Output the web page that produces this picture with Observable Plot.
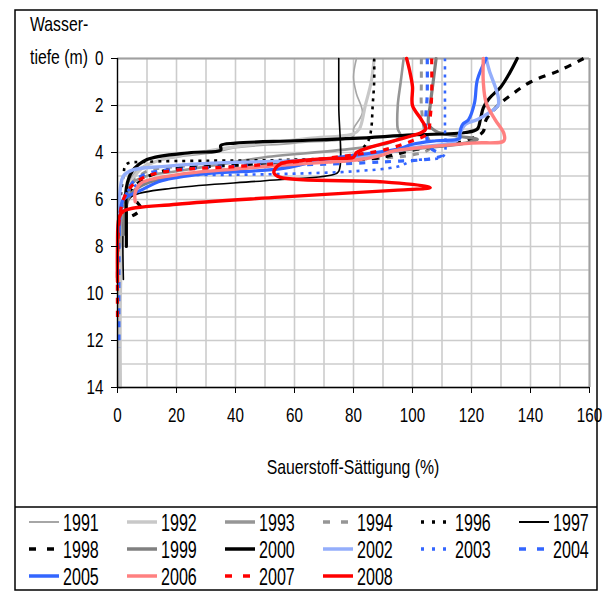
<!DOCTYPE html>
<html>
<head>
<meta charset="utf-8">
<script src="https://cdn.jsdelivr.net/npm/d3@7"></script>
<script src="https://cdn.jsdelivr.net/npm/@observablehq/plot@0.6"></script>
<style>
  html, body { margin: 0; padding: 0; background: #fff; }
  #chart { position: relative; width: 605px; height: 592px; }
</style>
</head>
<body>
<div id="chart"></div>
<script>
// ---- data: [saturation %, depth m] per year ----
const years = ["1991","1992","1993","1994","1996","1997","1998","1999","2000","2002","2003","2004","2005","2006","2007","2008"];
const s1991 = [[81,0],[80,0.8],[81,1.5],[83,2.3],[80,3],[80,3.3],[60,3.6],[40,3.8],[33,4.0],[20,4.2],[10,4.5],[5,5],[2,6],[0.5,8],[0.3,11],[0.3,14]];
const s1992 = [[87,0],[86,1],[84,2],[82,3],[80,3.2],[65,3.4],[50,3.6],[40,3.75],[30,3.95],[15,4.3],[8,4.7],[5,5.2],[4,5.8],[2,7],[1,10],[1,14]];
const s1993 = [[97,0],[96,1],[95,2],[95,3],[96,3.3],[92,3.6],[75,3.9],[50,4.2],[35,4.5],[20,4.8],[10,5.0],[5,5.3],[2,6],[1,8]];
const s1994 = [[103,0],[103,1],[103,2],[104,3],[106,3.8],[100,4.1],[80,4.3],[60,4.45],[40,4.5],[20,4.6],[10,4.8],[5,5.3],[3,6],[1,7]];
const s1996 = [[87,0],[87,1],[86.5,2],[86,3],[85,3.5],[80,4.1],[60,4.3],[30,4.35],[10,4.4],[3,4.5],[2,5],[1,6],[0.5,7]];
const s1997 = [[75,0],[75,2],[75,4.8],[73,4.95],[50,5.2],[20,5.5],[5,5.85],[3,6.2],[2,7],[2,9.4]];
const s1998 = [[158,0],[150,0.5],[140,1],[134,1.5],[129,2],[125,2.6],[124,3.1],[122,3.3],[115,3.6],[100,3.9],[90,4.2],[70,4.4],[50,4.5],[30,4.6],[15,4.8],[8,5.2],[5,5.6],[6,6.0],[8,6.4],[5,6.7]];
const s1999 = [[108,0],[107,1],[106,2],[105.5,2.8],[108,3.1],[115,3.3],[122,3.45],[118,3.6],[100,3.85],[80,4.2],[60,4.45],[40,4.7],[20,5.0],[10,5.3],[5,5.7],[3,6.2],[2,7.5]];
const s2000 = [[135.5,0],[133,0.6],[130,1.2],[126,1.7],[124,2.1],[123,2.6],[122,3.0],[118,3.15],[100,3.25],[80,3.4],[60,3.5],[40,3.6],[35,3.7],[35,3.9],[25,4.0],[10,4.3],[5,4.8],[3,5.5],[3,6.5],[3,8]];
const s2002 = [[125,0],[126,0.5],[129,1.6],[129,2],[126,2.3],[122,2.6],[118,2.8],[116,3.2],[115,3.5],[100,3.8],[80,4.2],[60,4.35],[32,4.45],[15,4.6],[5,4.75],[2,5.0],[1,5.5],[0.5,6.5]];
const s2003 = [[111,0],[111,2],[111,3],[111,4.0],[110,4.2],[100,4.35],[95,4.6],[80,4.8],[60,4.9],[40,4.95],[20,5.0],[8,5.3],[3,5.7],[1,6.5]];
const s2004 = [[105,0],[105,1.5],[104.5,3],[106,3.8],[110,4.1],[107,4.25],[90,4.4],[70,4.5],[50,4.55],[30,4.65],[10,4.9],[5,5.3],[3,5.8],[1,6.5],[0.5,9],[0.5,12.3]];
const s2005 = [[125,0],[122,0.9],[121,1.9],[119,2.6],[117,2.8],[116,3.2],[116,3.4],[108,3.5],[100,3.65],[95,3.85],[70,4.3],[55,4.7],[30,4.9],[15,5.2],[8,5.6],[2,6.0],[1,6.5],[0.5,7.5]];
const s2006 = [[124,0],[124,1],[125,1.9],[128,2.6],[131,3.2],[131,3.5],[120,3.6],[93,3.95],[90,4.1],[82,4.3],[60,4.5],[55,4.55],[40,4.7],[20,4.95],[8,5.3],[6,5.7],[6,6.1]];
const s2007 = [[106.5,0],[106.5,1.5],[106,2.5],[105,3.2],[100,3.5],[90,3.9],[80,4.1],[60,4.4],[40,4.6],[20,4.75],[10,5.0],[5,5.4],[2,6.0],[0.5,7],[0,9],[0,11]];
const s2008 = [[98,0],[99,0.5],[100,1.2],[100,2],[103,2.6],[104.5,3],[103,3.15],[85,3.8],[81,4.0],[80,4.2],[72,4.25],[62,4.35],[55,4.5],[53,4.85],[55,5.05],[90,5.25],[105,5.45],[106,5.5],[95,5.6],[55,5.9],[20,6.2],[2,6.5],[0.5,6.8],[0,8],[0,9.5]];
const seriesData = {"1991":s1991,"1992":s1992,"1993":s1993,"1994":s1994,"1996":s1996,"1997":s1997,"1998":s1998,"1999":s1999,"2000":s2000,"2002":s2002,"2003":s2003,"2004":s2004,"2005":s2005,"2006":s2006,"2007":s2007,"2008":s2008};
const xTicks = [0,20,40,60,80,100,120,140,160];
const yTicks = [0,2,4,6,8,10,12,14];
const xGrid = d3.range(0,161,10);
const yGrid = d3.range(0,15,1);

// ---- styles ----
const styles = {
  "1991": {stroke:"#a6a6a6", w:1.6, dash:null},
  "1992": {stroke:"#c8c8c8", w:3.2, dash:null},
  "1993": {stroke:"#969696", w:2.6, dash:null},
  "1994": {stroke:"#969696", w:3, dash:"6,7"},
  "1996": {stroke:"#000000", w:2.6, dash:"3,5"},
  "1997": {stroke:"#000000", w:1.6, dash:null},
  "1998": {stroke:"#000000", w:3.2, dash:"7,7"},
  "1999": {stroke:"#808080", w:3.2, dash:null},
  "2000": {stroke:"#000000", w:3.2, dash:null},
  "2002": {stroke:"#94aefb", w:3.4, dash:null},
  "2003": {stroke:"#3366ff", w:2.6, dash:"3,5"},
  "2004": {stroke:"#3366ff", w:3.2, dash:"6,7"},
  "2005": {stroke:"#3366ff", w:3.2, dash:null},
  "2006": {stroke:"#ff8080", w:3.4, dash:null},
  "2007": {stroke:"#ff0000", w:3.2, dash:"6,7"},
  "2008": {stroke:"#ff0000", w:3.4, dash:null}
};

const FONT = "'Liberation Sans',Arial,sans-serif";

const lineMarks = years.map(y => {
  const st = styles[y];
  return Plot.line(seriesData[y], {
    x: d => d[0], y: d => d[1],
    stroke: st.stroke, strokeWidth: st.w,
    strokeDasharray: st.dash ?? undefined,
    curve: "catmull-rom", strokeLinejoin: "round",
    strokeLinecap: st.dash ? "butt" : "round"
  });
});

const plot = Plot.plot({
  width: 605, height: 592,
  marginLeft: 117, marginRight: 16, marginTop: 58, marginBottom: 205,
  style: {fontFamily: FONT, fontSize: "20px", color: "#000", background: "transparent"},
  x: {domain: [0,160]},
  y: {domain: [0,14], reverse: true},
  marks: [
    Plot.gridX(xGrid, {stroke: "#cccccc", strokeOpacity: 1, strokeWidth: 1.6}),
    Plot.gridY(yGrid, {stroke: "#cccccc", strokeOpacity: 1, strokeWidth: 1.6}),
    Plot.ruleY([0], {stroke: "#a0a0a0", strokeWidth: 2}),
    Plot.ruleX([160], {stroke: "#a0a0a0", strokeWidth: 2}),
    ...lineMarks,
    Plot.ruleX([0], {stroke: "#000", strokeWidth: 1.3}),
    Plot.ruleY([14], {stroke: "#000", strokeWidth: 1.3}),
    Plot.axisX(xTicks, {anchor: "bottom", tickSize: 6, tickPadding: 14, label: null, fontSize: 20, stroke: "#000"}),
    Plot.axisY(yTicks, {anchor: "left", tickSize: 6, tickPadding: 8, label: null, fontSize: 20, stroke: "#000"})
  ]
});
document.getElementById("chart").appendChild(plot);

// squeeze axis tick labels horizontally (imitates a narrow font)
d3.select(plot).selectAll("g[aria-label$='tick label'] text").each(function() {
  const t = this.getAttribute("transform") || "";
  this.setAttribute("transform", t + " scale(0.76,1)");
});

// ---- annotations, frame and legend ----
const svg = d3.select(plot);
svg.append("rect").attr("x",15).attr("y",10).attr("width",582).attr("height",580)
  .attr("fill","none").attr("stroke","#000").attr("stroke-width",1.5);
svg.append("line").attr("x1",15).attr("x2",597).attr("y1",507).attr("y2",507)
  .attr("stroke","#000").attr("stroke-width",1.5);

const txt = (s, x, y, anchor, size, sx) => svg.append("text").text(s)
  .attr("transform", `translate(${x},${y}) scale(${sx},1)`)
  .attr("text-anchor", anchor).attr("font-family", FONT).attr("font-size", size).attr("fill", "#000");
txt("Wasser-", 30, 31, "start", 20, 0.79);
txt("tiefe (m)", 30, 64, "start", 20, 0.79);
txt("Sauerstoff-Sättigung (%)", 353, 474, "middle", 20, 0.79);

const legCols = 6, colW = 98, legX0 = 29, rowY0 = 522, rowH = 27;
const leg = svg.append("g");
years.forEach((y, i) => {
  const c = i % legCols, r = Math.floor(i / legCols);
  const x = legX0 + c * colW, yy = rowY0 + r * rowH;
  const st = styles[y];
  leg.append("line").attr("x1", x).attr("x2", x + 30).attr("y1", yy).attr("y2", yy)
    .attr("stroke", st.stroke).attr("stroke-width", st.w <= 1.6 ? 2 : 3.5)
    .attr("stroke-dasharray", st.dash ? (st.dash === "3,5" ? "3,8" : "7,11") : null);
  txt(y, x + 34, yy + 9, "start", 23, 0.7);
});
</script>
</body>
</html>
